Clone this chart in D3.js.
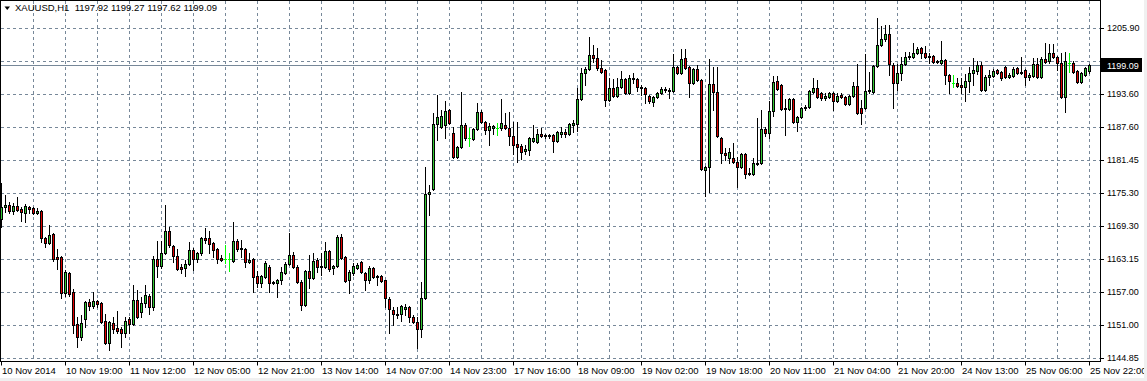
<!DOCTYPE html>
<html>
<head>
<meta charset="utf-8">
<script src="https://cdn.jsdelivr.net/npm/d3@7"></script>
<style>
body { margin: 0; background: #fff; overflow: hidden; }
svg { display: block; font-family: "Liberation Sans", Arial, sans-serif; }
</style>
</head>
<body>
<script>
// XAUUSD H1 candles, 10 Nov - 25 Nov 2014

let symbol = "XAUUSD,H1";
let lastBar = [1197.92, 1199.27, 1197.62, 1199.09];

let timeLabels = ["10 Nov 2014","10 Nov 19:00","11 Nov 12:00","12 Nov 05:00","12 Nov 21:00","13 Nov 14:00",
  "14 Nov 07:00","14 Nov 23:00","17 Nov 16:00","18 Nov 09:00","19 Nov 02:00","19 Nov 18:00",
  "20 Nov 11:00","21 Nov 04:00","21 Nov 20:00","24 Nov 13:00","25 Nov 06:00","25 Nov 22:00"];

let priceTicks = [1205.90,1199.75,1193.60,1187.60,1181.45,1175.30,1169.30,1163.15,1157.00,1151.00,1144.85];

let opens = [1170.56,1172.78,1173.15,1172.04,1172.97,1172.41,1171.67,1172.78,1172.60,1171.67,
1172.04,1167.05,1166.12,1167.79,1163.53,1163.53,1156.87,1160.57,1157.06,1151.14,
1148.74,1152.06,1155.21,1154.47,1155.39,1155.02,1151.69,1147.62,1151.32,1150.40,
1150.21,1149.47,1152.06,1151.14,1155.58,1153.36,1155.02,1156.32,1154.28,1163.16,
1161.87,1164.27,1168.34,1165.57,1163.72,1161.69,1161.50,1162.24,1164.83,1163.16,
1164.27,1167.05,1167.05,1166.12,1165.01,1163.35,1163.10,1163.10,1162.79,1166.49,
1165.20,1165.01,1162.61,1163.16,1160.02,1158.72,1159.83,1161.69,1158.91,1158.72,
1159.28,1160.57,1162.24,1163.90,1161.69,1158.91,1154.65,1160.94,1159.65,1162.98,
1161.87,1161.69,1164.64,1161.50,1161.87,1167.23,1163.53,1159.28,1160.57,1161.50,
1162.61,1160.57,1159.28,1161.50,1160.02,1160.02,1159.28,1155.76,1153.73,1152.99,
1152.99,1153.91,1154.28,1152.43,1151.51,1150.21,1155.95,1175.19,1176.11,1188.14,
1187.58,1187.95,1190.73,1186.48,1182.03,1183.88,1187.95,1185.55,1185.37,1187.21,
1190.36,1188.51,1187.03,1187.40,1187.40,1187.40,1187.95,1187.40,1185.92,1184.44,
1184.07,1183.14,1183.33,1184.99,1184.81,1186.29,1185.92,1186.11,1186.11,1184.99,
1186.29,1186.66,1186.29,1187.95,1188.14,1192.77,1197.57,1198.32,1200.91,1200.35,
1198.50,1198.13,1192.58,1194.80,1193.32,1194.99,1196.47,1193.88,1196.65,1196.47,
1194.99,1194.80,1193.32,1192.21,1193.13,1193.88,1194.62,1194.43,1194.24,1198.69,
1197.57,1200.35,1198.69,1195.72,1198.32,1196.28,1179.63,1180.19,1195.54,1194.06,
1185.55,1182.77,1181.85,1181.85,1181.11,1180.19,1182.59,1178.89,1178.89,1180.74,
1180.93,1187.21,1186.48,1190.54,1196.09,1195.35,1190.92,1190.92,1192.77,1188.51,
1189.43,1191.10,1191.29,1194.06,1194.80,1193.88,1192.95,1193.13,1193.88,1192.39,
1193.51,1193.13,1191.84,1193.32,1195.17,1191.10,1191.10,1194.24,1194.06,1198.87,
1202.76,1203.87,1204.79,1199.06,1195.72,1197.57,1199.24,1200.54,1200.54,1201.28,
1202.20,1201.28,1200.54,1200.72,1199.61,1199.43,1199.98,1197.20,1195.72,1195.72,
1195.35,1194.99,1196.09,1197.57,1197.94,1199.06,1194.43,1196.83,1197.02,1198.13,
1197.76,1198.69,1196.83,1197.02,1198.50,1197.57,1198.13,1196.83,1197.02,1199.24,
1196.83,1200.17,1199.80,1201.28,1200.54,1199.43,1193.13,1199.43,1199.43,1197.94,
1195.91,1197.20,1197.92];

let highs = [1177.22,1175.00,1173.71,1173.52,1174.63,1172.78,1173.34,1172.97,1172.78,1172.60,
1172.23,1167.23,1169.45,1167.97,1165.01,1163.72,1161.13,1160.76,1157.61,1152.43,
1152.80,1155.39,1155.76,1157.06,1155.58,1155.21,1152.99,1151.69,1152.43,1153.54,
1150.58,1152.43,1152.43,1158.35,1157.43,1156.13,1158.35,1156.69,1163.72,1166.49,
1166.49,1173.15,1169.08,1165.75,1165.01,1162.24,1162.98,1166.31,1165.20,1164.46,
1167.23,1168.90,1168.34,1166.31,1165.20,1163.90,1165.75,1164.27,1170.01,1166.86,
1166.68,1165.20,1164.27,1163.35,1160.94,1160.20,1162.79,1162.05,1159.09,1159.46,
1161.69,1162.61,1167.97,1164.46,1162.05,1159.28,1161.13,1163.90,1164.27,1163.35,
1164.27,1166.31,1164.83,1162.05,1167.60,1167.79,1163.72,1161.13,1162.42,1162.42,
1162.79,1160.76,1161.87,1161.69,1160.20,1160.20,1159.28,1156.13,1154.28,1154.28,
1154.65,1154.84,1154.47,1152.80,1152.43,1158.91,1180.19,1176.86,1190.17,1193.51,
1190.73,1192.39,1190.92,1187.58,1184.07,1194.06,1188.32,1187.40,1187.40,1192.02,
1190.73,1188.69,1188.32,1187.95,1188.32,1192.77,1190.17,1190.36,1188.51,1188.51,
1184.44,1184.26,1185.74,1187.95,1187.21,1187.40,1186.29,1186.29,1186.29,1186.85,
1187.58,1187.21,1188.32,1188.88,1194.80,1198.50,1198.69,1204.24,1202.76,1202.20,
1199.98,1198.32,1196.65,1196.47,1196.65,1197.95,1196.65,1197.20,1197.57,1196.65,
1195.35,1194.99,1193.51,1193.32,1194.06,1194.99,1194.99,1194.80,1201.09,1198.87,
1202.02,1202.02,1198.87,1198.50,1199.06,1196.47,1180.37,1200.17,1198.69,1198.69,
1185.74,1183.70,1183.70,1184.63,1182.03,1182.77,1182.77,1180.00,1181.85,1189.25,
1190.73,1187.58,1192.39,1197.02,1197.02,1195.54,1192.77,1192.95,1192.95,1189.62,
1191.29,1191.66,1194.43,1196.65,1196.28,1194.06,1193.88,1194.06,1194.06,1193.88,
1193.88,1193.32,1193.51,1195.91,1199.24,1192.58,1201.09,1197.76,1199.06,1207.75,
1206.27,1206.46,1206.46,1199.43,1199.24,1200.53,1201.46,1201.46,1203.13,1202.39,
1202.39,1202.57,1201.28,1200.91,1199.98,1203.50,1200.17,1197.39,1197.20,1196.65,
1196.65,1197.39,1198.69,1200.35,1199.80,1199.61,1197.20,1198.13,1198.32,1198.32,
1197.94,1198.87,1197.57,1198.69,1198.69,1200.53,1198.32,1197.57,1200.35,1200.35,
1200.53,1203.13,1202.94,1202.94,1200.72,1201.28,1201.46,1201.28,1199.80,1198.13,
1197.76,1198.69,1199.27];

let lows = [1169.08,1171.86,1171.67,1171.49,1172.04,1170.19,1170.01,1171.67,1171.49,1171.49,
1166.31,1165.38,1165.94,1162.79,1161.31,1155.95,1156.32,1156.32,1149.47,1146.88,
1148.18,1150.58,1153.73,1154.10,1154.28,1151.32,1147.44,1146.33,1149.47,1149.47,
1146.88,1148.74,1149.47,1150.95,1152.25,1152.43,1154.28,1152.99,1153.73,1159.83,
1161.50,1164.09,1165.38,1162.61,1161.13,1160.57,1160.02,1162.05,1161.13,1162.61,
1163.90,1166.12,1164.27,1163.53,1162.42,1162.79,1162.42,1160.94,1162.61,1164.64,
1163.53,1161.69,1162.42,1157.06,1157.98,1157.98,1159.65,1157.06,1158.54,1156.13,
1158.54,1160.39,1162.05,1161.50,1158.72,1153.73,1154.47,1157.80,1159.46,1160.76,
1160.20,1161.50,1160.94,1160.39,1161.69,1163.16,1158.91,1156.87,1160.20,1161.31,
1160.57,1157.43,1158.72,1159.65,1158.35,1158.91,1154.28,1149.47,1150.95,1152.25,
1151.69,1152.80,1151.51,1151.32,1146.70,1148.74,1155.76,1171.30,1175.93,1185.18,
1187.40,1185.55,1188.14,1181.85,1181.85,1183.70,1185.18,1184.07,1185.18,1187.03,
1188.32,1186.29,1184.26,1186.29,1186.11,1187.03,1187.21,1184.26,1182.59,1181.11,
1181.66,1182.59,1182.40,1184.81,1184.62,1185.74,1185.55,1185.55,1182.96,1184.81,
1185.74,1185.74,1186.11,1186.66,1186.85,1192.58,1195.35,1198.13,1199.61,1198.13,
1197.57,1191.47,1192.39,1193.13,1193.13,1194.80,1193.69,1193.69,1195.72,1194.24,
1193.51,1192.02,1192.02,1191.47,1192.95,1193.69,1194.06,1192.95,1194.06,1197.39,
1197.39,1198.32,1193.13,1195.54,1196.09,1179.63,1174.82,1175.56,1190.73,1185.74,
1180.93,1181.48,1180.93,1180.93,1176.49,1180.00,1178.15,1178.71,1178.71,1180.56,
1180.74,1185.92,1185.55,1189.62,1194.43,1190.73,1186.11,1190.73,1188.32,1186.85,
1189.25,1190.73,1191.10,1193.88,1192.95,1192.58,1192.58,1192.95,1190.73,1192.21,
1192.95,1191.66,1191.66,1193.13,1189.99,1188.14,1190.92,1193.88,1193.88,1198.69,
1202.57,1203.50,1197.20,1191.10,1194.43,1196.28,1199.06,1200.17,1200.35,1201.09,
1200.35,1200.35,1199.43,1199.43,1199.43,1199.24,1195.54,1193.88,1194.99,1194.99,
1193.88,1192.39,1194.06,1195.35,1197.39,1194.24,1194.24,1195.35,1196.83,1197.39,
1196.28,1196.65,1196.65,1196.83,1197.39,1197.39,1195.35,1196.28,1196.83,1196.65,
1196.65,1199.43,1199.43,1200.35,1198.13,1192.95,1190.36,1197.76,1197.57,1195.72,
1195.72,1197.02,1197.62];

let closes = [1172.78,1173.15,1172.04,1172.97,1172.23,1171.86,1172.97,1172.41,1171.67,1172.04,
1167.05,1166.12,1167.60,1163.16,1163.16,1156.87,1160.76,1156.69,1150.95,1148.74,
1151.32,1155.21,1154.47,1155.39,1154.84,1151.51,1147.62,1151.51,1150.21,1149.84,
1149.47,1151.69,1151.14,1155.58,1152.43,1155.02,1156.50,1154.28,1163.16,1161.87,
1164.27,1168.34,1165.75,1163.72,1161.31,1161.31,1162.24,1164.83,1163.16,1164.27,
1167.05,1166.68,1165.94,1164.83,1163.16,1162.98,1163.10,1163.10,1166.49,1165.01,
1165.01,1162.61,1162.98,1159.83,1158.72,1160.02,1162.42,1158.72,1158.72,1159.28,
1160.76,1162.24,1163.90,1161.69,1158.91,1154.65,1160.94,1159.65,1162.79,1161.69,
1161.69,1164.64,1161.31,1161.87,1167.23,1163.35,1159.09,1160.76,1161.87,1162.05,
1160.76,1159.28,1161.50,1159.83,1159.83,1159.09,1155.95,1153.91,1152.99,1152.80,
1154.47,1154.28,1152.43,1151.51,1150.21,1155.95,1175.19,1175.56,1188.14,1189.43,
1189.62,1190.54,1188.32,1182.03,1183.88,1187.95,1185.55,1185.55,1187.21,1190.36,
1188.51,1187.03,1187.77,1187.77,1187.40,1188.32,1187.40,1185.92,1184.26,1183.88,
1182.96,1183.51,1185.55,1185.55,1186.29,1185.92,1186.11,1185.92,1184.99,1186.66,
1186.66,1186.29,1188.14,1188.32,1192.77,1197.57,1198.32,1200.91,1200.35,1198.50,
1197.76,1192.58,1194.80,1193.32,1194.99,1196.47,1193.88,1196.65,1196.47,1194.99,
1194.80,1193.69,1192.39,1193.13,1193.88,1194.62,1194.43,1194.24,1198.69,1197.57,
1200.17,1198.50,1195.72,1198.32,1196.28,1179.82,1180.19,1195.54,1194.06,1185.92,
1182.77,1182.40,1182.96,1181.11,1180.19,1182.59,1178.89,1179.08,1180.93,1180.93,
1187.21,1186.48,1190.54,1195.91,1194.62,1190.92,1191.10,1192.77,1188.51,1189.43,
1191.10,1191.29,1194.24,1194.80,1193.13,1192.95,1193.32,1193.88,1192.39,1193.32,
1193.13,1191.84,1193.32,1195.17,1190.17,1190.17,1194.24,1194.43,1198.87,1202.76,
1203.87,1204.79,1199.24,1195.72,1197.57,1199.24,1200.54,1200.72,1201.28,1202.02,
1201.28,1200.54,1200.72,1199.61,1199.80,1199.98,1197.20,1196.09,1195.72,1195.17,
1194.99,1196.09,1197.57,1198.13,1199.06,1194.43,1196.83,1197.20,1197.94,1197.57,
1196.65,1196.83,1197.20,1198.32,1197.57,1197.76,1196.83,1197.20,1199.24,1196.83,
1200.17,1199.61,1201.28,1200.54,1199.43,1193.13,1199.80,1199.43,1197.76,1195.91,
1197.57,1198.50,1199.09];

let svgWidth = 1147;
let svgHeight = 381;
let plotRight = 1100;
let plotBottom = 361;
let n = opens.length;

let svg = d3.select("body")
  .append("svg")
  .attr("width", svgWidth)
  .attr("height", svgHeight)

svg.append("rect").attr("width", svgWidth).attr("height", svgHeight).attr("fill", "#fff")

let xScale = d3.scaleLinear().domain([0, n - 1]).rangeRound([1, 1089])
let yScale = d3.scaleLinear().domain(d3.extent(priceTicks)).rangeRound([358, 28])

// grid
svg.append("g")
  .selectAll("line")
  .data(priceTicks)
  .enter()
  .append("line")
  .attr("x1", 1).attr("x2", plotRight)
  .attr("y1", d => yScale(d) + 0.5).attr("y2", d => yScale(d) + 0.5)
  .attr("stroke", "#778899").attr("stroke-dasharray", "3,3")

svg.append("g")
  .selectAll("line")
  .data(d3.range(8, n, 8))
  .enter()
  .append("line")
  .attr("x1", d => xScale(d) + 0.5).attr("x2", d => xScale(d) + 0.5)
  .attr("y1", 1).attr("y2", plotBottom)
  .attr("stroke", "#778899").attr("stroke-dasharray", "3,3")

// bid line
let bidY = yScale(lastBar[3]);
svg.append("line")
  .attr("x1", 1).attr("x2", plotRight)
  .attr("y1", bidY + 0.5).attr("y2", bidY + 0.5)
  .attr("stroke", "#778899")

// candles
let candles = svg.append("g")
  .selectAll("g")
  .data(d3.range(n))
  .enter()
  .append("g")
  .call(drawCandle)

function drawCandle(selection) {
  selection.each(function(i) {
    let g = d3.select(this);
    let cx = xScale(i);
    let o = opens[i], c = closes[i];
    let yh = yScale(highs[i]), yl = yScale(lows[i]);
    let doji = Math.abs(o - c) < 0.005;
    g.append("rect")
      .attr("x", cx).attr("y", yh)
      .attr("width", 1).attr("height", yl - yh + 1)
      .attr("fill", doji ? "#00ff00" : "#000")
    if (doji) {
      g.append("rect")
        .attr("x", cx - 1).attr("y", yScale(o))
        .attr("width", 3).attr("height", 1)
        .attr("fill", "#00ff00")
      return;
    }
    let top = Math.min(yScale(o), yScale(c));
    let bot = Math.max(yScale(o), yScale(c));
    g.append("rect")
      .attr("x", cx - 0.5).attr("y", top + 0.5)
      .attr("width", 2).attr("height", Math.max(1, bot - top))
      .attr("fill", c > o ? "#32c832" : "#e00000")
      .attr("stroke", "#000").attr("stroke-width", 1)
  })
}

// frame
svg.append("rect")
  .attr("x", 0.5).attr("y", 0.5)
  .attr("width", plotRight).attr("height", plotBottom)
  .attr("fill", "none").attr("stroke", "#000")

// axes
let xAxis = d3.axisBottom(xScale)
  .tickValues(d3.range(0, n, 16))
  .tickFormat((d, i) => timeLabels[i])
  .tickSize(4)
  .tickPadding(2)

let gx = svg.append("g")
  .attr("transform", `translate(0,${plotBottom + 0.5})`)
  .call(xAxis)
gx.select(".domain").remove()
gx.attr("font-family", "Liberation Sans, Arial, sans-serif").attr("font-size", 9.5)
gx.selectAll("line").attr("stroke", "#000")
gx.selectAll("text").attr("text-anchor", "start").attr("x", 0.5).attr("fill", "#000")

let yAxis = d3.axisRight(yScale)
  .tickValues(priceTicks)
  .tickFormat(d3.format(".2f"))
  .tickSize(4)
  .tickPadding(3)

let gy = svg.append("g")
  .attr("transform", `translate(${plotRight},0)`)
  .call(yAxis)
gy.select(".domain").remove()
gy.attr("font-family", "Liberation Sans, Arial, sans-serif").attr("font-size", 9)
gy.selectAll("line").attr("stroke", "#000")
gy.selectAll("text").attr("fill", "#000")

// current price label
svg.append("rect")
  .attr("x", plotRight + 1).attr("y", bidY - 7)
  .attr("width", 41).attr("height", 14)
  .attr("fill", "#000")
svg.append("text")
  .attr("x", plotRight + 7).attr("y", bidY + 0.5)
  .attr("dy", "0.35em")
  .attr("font-size", 9)
  .attr("fill", "#fff")
  .text(d3.format(".2f")(lastBar[3]))

// title
svg.append("path")
  .attr("d", "M4.5,6.5H10L7.25,10Z")
  .attr("fill", "#000")
svg.append("text")
  .attr("x", 15).attr("y", 11)
  .attr("font-size", 9.5)
  .attr("fill", "#000")
  .style("white-space", "pre")
  .text(symbol + "  " + lastBar.map(d3.format(".2f")).join(" "))

// window edges
svg.append("rect").attr("x", 0).attr("y", 378).attr("width", svgWidth).attr("height", 3).attr("fill", "#f0f0f0")
svg.append("rect").attr("x", 1144).attr("y", 0).attr("width", 3).attr("height", svgHeight).attr("fill", "#f0f0f0")
</script>
</body>
</html>
